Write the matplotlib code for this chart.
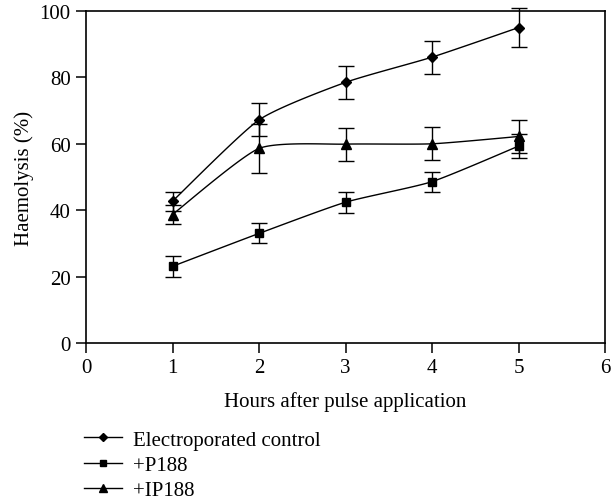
import numpy as np
import matplotlib
matplotlib.use("Agg")
import matplotlib.pyplot as plt
from matplotlib.lines import Line2D

hours = [1, 2, 3, 4, 5]
control = [42.7, 67.2, 78.5, 86.1, 95.0]
control_err = [2.8, 5.0, 5.0, 5.0, 5.8]
p188 = [23.1, 33.0, 42.4, 48.6, 59.3]
p188_err = [3.1, 3.0, 3.2, 3.0, 3.6]
ip188 = [38.7, 58.6, 59.9, 60.0, 62.2]
ip188_err = [3.0, 7.5, 5.0, 5.0, 5.0]
labels = ["Electroporated control", "+P188", "+IP188"]
markers = ["D", "s", "^"]
msizes = [5.5, 5.5, 6.5]

plt.rcParams['font.family'] = ['Liberation Serif', 'DejaVu Serif']
FS = 15

def smooth(x, y, n=30, k=0.6):
    # cardinal spline drawn through the data points (line rendering only)
    x = np.asarray(x, float); y = np.asarray(y, float)
    px = np.concatenate([[x[0]], x, [x[-1]]])
    py = np.concatenate([[y[0]], y, [y[-1]]])
    xs, ys = [], []
    t = np.linspace(0, 1, n)[:, None]
    for i in range(1, len(px)-2):
        p0, p1, p2, p3 = [np.array([px[j], py[j]]) for j in range(i-1, i+3)]
        m1 = k*(p2-p0)/2; m2 = k*(p3-p1)/2
        h00 = 2*t**3-3*t**2+1; h10 = t**3-2*t**2+t; h01 = -2*t**3+3*t**2; h11 = t**3-t**2
        pts = h00*p1 + h10*m1 + h01*p2 + h11*m2
        xs.extend(pts[:, 0]); ys.extend(pts[:, 1])
    return np.array(xs), np.array(ys)

fig = plt.figure(figsize=(6.11, 5.02), dpi=100)
ax = fig.add_axes([86/611, 1-344/502, (605-86)/611, (344-12)/502])

handles = []
for ys, es, m, ms, lab in zip([control, p188, ip188], [control_err, p188_err, ip188_err], markers, msizes, labels):
    sx, sy = smooth(hours, ys)
    ax.plot(sx, sy, color='black', lw=1.0, clip_on=False)
    ax.errorbar(hours, ys, yerr=es, fmt='none', ecolor='black', elinewidth=1.0,
                capsize=5.5, capthick=1.0, clip_on=False)
    ax.plot(hours, ys, linestyle='none', marker=m, markersize=ms, color='black', clip_on=False)
    handles.append(Line2D([], [], color='black', lw=1.0, marker=m, markersize=ms*0.8))

ax.set_xlim(0, 6)
ax.set_ylim(0, 100)
ax.set_xticks(range(0, 7))
ax.set_yticks(range(0, 101, 20))
for s in ax.spines.values():
    s.set_linewidth(1.2)
ax.tick_params(direction='out', length=7, width=1.1, labelsize=FS, colors='black', pad=4)
ax.set_xlabel("Hours after pulse application", fontsize=FS, labelpad=10)
ax.set_ylabel("Haemolysis (%)", fontsize=FS, labelpad=4)

fig.legend(handles=handles, labels=labels, loc='upper left',
           bbox_to_anchor=(84/611, 1-431/502), frameon=False, fontsize=FS,
           handlelength=1.8, handletextpad=0.55, labelspacing=0.28, borderaxespad=0,
           borderpad=0)

fig.savefig("out.png", dpi=100)
